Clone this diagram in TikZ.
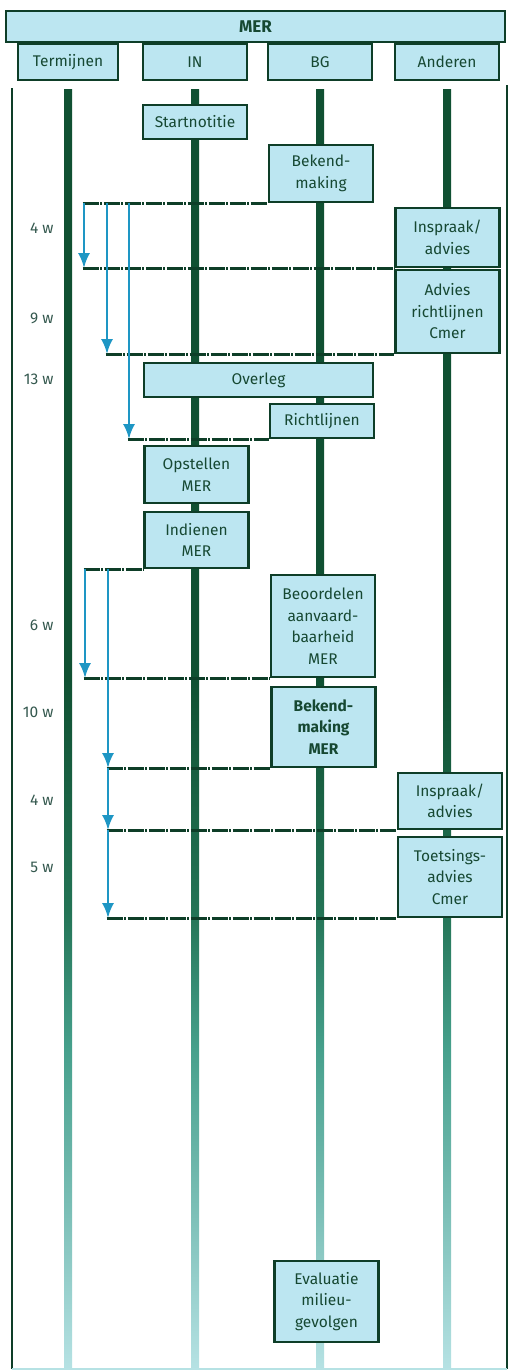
\documentclass[tikz,border=0pt]{standalone}
\usepackage{fontspec}
\setmainfont{Fira Sans}
\usepackage{tikz}
\usetikzlibrary{arrows.meta,calc}
\definecolor{edge}{RGB}{14,62,40}
\definecolor{boxfill}{RGB}{188,230,241}
\definecolor{ink}{RGB}{22,72,50}
\definecolor{flow}{RGB}{30,150,196}
\definecolor{lifetop}{RGB}{16,80,50}
\definecolor{lifemid}{RGB}{35,115,85}
\definecolor{lifeteal}{RGB}{70,160,140}
\definecolor{lifelt}{RGB}{125,192,184}
\definecolor{lifebot}{RGB}{182,226,228}
\definecolor{weekink}{RGB}{52,88,78}
\pgfdeclareverticalshading{lifefade}{100bp}{color(0bp)=(lifebot); color(25bp)=(lifebot);
  color(31bp)=(lifelt); color(37.5bp)=(lifeteal); color(43bp)=(lifemid);
  color(52bp)=(lifetop); color(100bp)=(lifetop)}

\begin{document}
\begin{tikzpicture}[
    x=1pt,y=-1pt,
    box/.style={draw=edge,line width=2.4pt,fill=boxfill,text=ink,inner sep=0pt,
      align=center,font=\fontsize{15.5}{21.5}\selectfont},
    head/.style={box,minimum height=36pt},
    evt/.style={box,minimum width=104pt},
    week/.style={anchor=east,text=weekink,font=\fontsize{15.5}{17}\selectfont},
    life/.style={shading=lifefade},
    tline/.style={draw=edge,line width=2.6pt,dash pattern=on 16pt off 1.5pt on 2pt off 1.5pt},
    arr/.style={draw=flow,line width=2.8pt,-{Latex[length=15pt,width=12pt]}}
  ]
  \useasboundingbox (0,0) rectangle (509,1371);

  % frame
  \draw[edge,line width=1.6pt] (12,88) -- (12,1369);
  \draw[edge,line width=1.6pt] (507,85) -- (507,1369);
  \draw[lifebot,line width=1.6pt] (12,1369) -- (507,1369);

  % headers
  \node[box,minimum width=499pt,minimum height=31pt,font=\fontsize{17}{19}\selectfont\bfseries] (mer) at (255.5,26.5) {MER};
  \node[head,minimum width=100pt] (hTerm) at (68,62) {Termijnen};
  \node[head,minimum width=104pt] (hIN) at (195,62) {IN};
  \node[head,minimum width=104pt] (hBG) at (320,62) {BG};
  \node[head,minimum width=104pt] (hAnd) at (447,62) {Anderen};

  % lifelines
  \foreach \h in {hTerm,hIN,hBG,hAnd}
    \shade[life] ($(\h.south)+(-4,8)$) rectangle ($(\h.south)+(4,1288)$);

  % events
  \node[evt,minimum height=34pt] (start) at (195,122) {Startnotitie};
  \node[evt,minimum height=57pt] (bek1) at (321,173.5) {Bekend-\\making};
  \node[evt,minimum height=59pt] (insp1) at (447.5,237.5) {Inspraak/\\advies};
  \node[evt,minimum height=83pt] (advr) at (447.5,311.5) {Advies\\richtlijnen\\Cmer};
  \node[box,minimum width=229pt,minimum height=34pt] (overleg) at (258.5,380) {Overleg};
  \node[evt,minimum height=34pt] (richt) at (322,421) {Richtlijnen};
  \node[evt,minimum height=57pt] (opst) at (196.5,474.5) {Opstellen\\MER};
  \node[evt,minimum height=56pt] (indien) at (196.5,540) {Indienen\\MER};
  \node[evt,minimum height=102pt] (beoord) at (323,626) {Beoordelen\\aanvaard-\\baarheid\\MER};
  \node[evt,minimum height=80pt,font=\fontsize{15.5}{21.5}\selectfont\bfseries] (bek2) at (323.5,727) {Bekend-\\making\\MER};
  \node[evt,minimum height=56pt] (insp2) at (450,801) {Inspraak/\\advies};
  \node[evt,minimum height=80pt] (toets) at (450,877) {Toetsings-\\advies\\Cmer};
  \node[evt,minimum height=81pt] (eval) at (326.5,1301.5) {Evaluatie\\milieu-\\gevolgen};

  % week marks
  \node[week] (w1) at (57,228) {4 w};
  \node[week] (w2) at (57,318) {9 w};
  \node[week] (w3) at (57,379) {13 w};
  \node[week] (w4) at (57,625) {6 w};
  \node[week] (w5) at (57,712) {10 w};
  \node[week] (w6) at (57,800) {4 w};
  \node[week] (w7) at (57,867) {5 w};

  % time lines, first round
  \coordinate (k1) at (bek1.south west -| 82.5,0);
  \coordinate (a1) at (bek1.south west -| 84,0);
  \coordinate (a2) at (bek1.south west -| 107,0);
  \coordinate (a3) at (bek1.south west -| 129,0);
  \coordinate (e1) at (insp1.south west -| 84,0);
  \coordinate (e2) at (advr.south west -| 107,0);
  \coordinate (e3) at (richt.south west -| 129,0);
  \draw[tline] (k1) -- (bek1.south west);
  \draw[tline] ([xshift=-1.3pt]e1) -- (insp1.south west);
  \draw[tline] ([xshift=-1.3pt]e2) -- (advr.south west);
  \draw[tline] ([xshift=-1.3pt]e3) -- (richt.south west);
  \draw[arr] (a1) -- (e1);
  \draw[arr] (a2) -- (e2);
  \draw[arr] (a3) -- (e3);

  % time lines, second round
  \coordinate (k2) at (indien.south west -| 83.5,0);
  \coordinate (a4) at (indien.south west -| 85,0);
  \coordinate (a5) at (indien.south west -| 108,0);
  \coordinate (e4) at (beoord.south west -| 85,0);
  \coordinate (e5) at (bek2.south west -| 108,0);
  \coordinate (e6) at (insp2.south west -| 108,0);
  \coordinate (e7) at (toets.south west -| 108,0);
  \draw[tline] (k2) -- (indien.south west);
  \draw[tline] ([xshift=-1.3pt]e4) -- (beoord.south west);
  \draw[tline] ([xshift=-1.3pt]e5) -- (bek2.south west);
  \draw[tline] ([xshift=-1.3pt]e6) -- (insp2.south west);
  \draw[tline] ([xshift=-1.3pt]e7) -- (toets.south west);
  \draw[arr] (a4) -- (e4);
  \draw[arr] (a5) -- (e5);
  \draw[arr] (e5) -- (e6);
  \draw[arr] (e6) -- (e7);
\end{tikzpicture}
\end{document}
